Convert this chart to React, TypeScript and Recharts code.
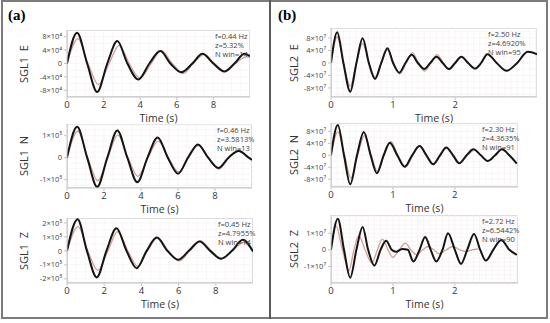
import React from 'react';
import { LineChart, Line, XAxis, YAxis, CartesianGrid } from 'recharts';

type Pt = [number, number];

// (a) SGL1 — time in s, value in units of the axis exponent
const sgl1EBlack: Pt[] = [[0,0],[0.55,9.2],[1.1,0],[1.65,-8.5],[2.2,0],[2.75,6.7],[3.3,0],[3.9,-4.8],[4.5,0],[5.1,3.7],[5.65,0],[6.25,-2.6],[6.85,0],[7.4,2.9],[8.0,0],[8.6,-2.4],[9.15,0],[9.7,2.9],[10,2.2]];
const sgl1ELight: Pt[] = [[0,0],[0.6,7.4],[1.15,0],[1.72,-6.3],[2.3,0],[2.85,5.4],[3.4,0],[3.98,-4.3],[4.6,0],[5.15,3.9],[5.75,0],[6.35,-3.0],[6.9,0],[7.5,2.7],[8.05,0],[8.65,-2.3],[9.2,0],[9.8,2.0],[10,1.9]];

const sgl1NBlack: Pt[] = [[0,0],[0.55,1.4],[1.09,0],[1.63,-1.33],[2.18,0],[2.72,1.24],[3.26,0],[3.8,-1.12],[4.35,0],[4.9,0.92],[5.45,0],[6.0,-0.73],[6.54,0],[7.08,0.6],[7.63,0],[8.18,-0.47],[8.73,0],[9.28,0.3],[9.82,0],[10,-0.1]];
const sgl1NLight: Pt[] = [[0,0],[0.58,1.2],[1.12,0],[1.66,-1.05],[2.2,0],[2.75,1.02],[3.3,0],[3.83,-0.85],[4.38,0],[4.93,0.75],[5.48,0],[6.03,-0.65],[6.57,0],[7.1,0.56],[7.65,0],[8.2,-0.52],[8.75,0],[9.3,0.33],[9.85,0],[10,-0.08]];

const sgl1ZBlack: Pt[] = [[0,0],[0.57,2.26],[1.07,0],[1.6,-1.9],[2.12,0],[2.66,1.62],[3.2,0],[3.75,-1.24],[4.28,0],[4.83,0.95],[5.4,0],[5.98,-0.64],[6.55,0],[7.13,0.67],[7.7,0],[8.28,-0.57],[8.87,0],[9.45,0.79],[10,-0.05]];
const sgl1ZLight: Pt[] = [[0,0],[0.6,1.74],[1.12,0],[1.66,-1.4],[2.2,0],[2.72,1.38],[3.27,0],[3.8,-1.1],[4.33,0],[4.87,0.95],[5.45,0],[6.03,-0.72],[6.6,0],[7.18,0.72],[7.75,0],[8.33,-0.56],[8.9,0],[9.5,0.6],[10,-0.05]];

// (b) SGL2
const sgl2EBlack: Pt[] = [[0,0],[0.1,9.8],[0.2,0],[0.31,-9.2],[0.41,0],[0.51,7.9],[0.61,0],[0.71,-5.1],[0.81,0],[0.91,4.7],[1.0,0],[1.1,-3.1],[1.2,0],[1.3,2.6],[1.4,0],[1.5,-1.9],[1.6,0],[1.7,2.0],[1.8,0],[1.9,-1.9],[2.0,0],[2.1,2.0],[2.21,0],[2.32,-1.8],[2.42,0],[2.52,2.8],[2.67,0],[2.83,-2.5],[3.0,0],[3.17,3.6],[3.32,2.8]];
const sgl2ELight: Pt[] = [[0,0],[0.1,8.4],[0.2,0],[0.31,-7.4],[0.41,0],[0.51,6.3],[0.61,0],[0.71,-4.6],[0.81,0],[0.91,4.3],[1.01,0],[1.11,-3.5],[1.21,0],[1.31,3.3],[1.41,0],[1.51,-2.6],[1.61,0],[1.71,2.7],[1.81,0],[1.91,-2.2],[2.01,0],[2.11,1.9],[2.21,0],[2.31,-1.8],[2.42,-0.2]];

const sgl2NBlack: Pt[] = [[0,0],[0.11,10.1],[0.21,0],[0.31,-9.7],[0.42,0],[0.53,7.8],[0.64,0],[0.74,-6.0],[0.85,0],[0.95,4.2],[1.07,0],[1.19,-3.8],[1.31,0],[1.43,3.1],[1.54,0],[1.65,-3.0],[1.76,0],[1.86,2.6],[1.97,0],[2.07,-2.7],[2.19,0],[2.3,2.0],[2.42,0],[2.53,-1.9],[2.65,0],[2.76,2.0],[2.88,0],[3.0,-2.8]];
const sgl2NLight: Pt[] = [[0,0],[0.11,7.8],[0.22,0],[0.32,-7.6],[0.43,0],[0.54,6.6],[0.65,0],[0.75,-5.4],[0.86,0],[0.97,4.6],[1.08,0],[1.2,-4.0],[1.32,0],[1.43,3.2],[1.55,0],[1.66,-2.9],[1.77,0],[1.87,2.5],[1.98,0],[2.08,-2.5],[2.2,0],[2.3,1.8]];

const sgl2ZBlack: Pt[] = [[0,0],[0.11,1.88],[0.21,0],[0.31,-1.68],[0.41,0],[0.51,1.38],[0.6,0],[0.7,-0.95],[0.8,0],[0.89,0.55],[0.98,0],[1.05,-0.12],[1.15,0.05],[1.24,0],[1.33,-0.7],[1.43,0],[1.52,0.78],[1.61,0],[1.7,-0.7],[1.8,0],[1.89,1.0],[2.0,0],[2.1,-0.85],[2.2,0],[2.31,0.95],[2.41,0],[2.5,-0.65],[2.62,0],[2.75,0.6],[2.88,0],[3.0,-0.3]];
const sgl2ZLight: Pt[] = [[0,0],[0.08,1.45],[0.185,0],[0.29,-1.25],[0.37,0],[0.45,0.85],[0.55,0],[0.66,-0.8],[0.75,0],[0.83,0.65],[0.92,0],[1.0,-0.45],[1.1,0],[1.2,0.4],[1.29,0],[1.38,-0.3],[1.48,0],[1.57,0.2],[1.66,0],[1.75,-0.24],[1.86,0],[1.97,0.2],[2.08,0],[2.18,-0.1],[2.28,0],[2.37,0.05]];

const ticksA = [0, 2, 4, 6, 8];
const ticksB = [0, 1, 2];

const FONT = "'Open Sans', 'Noto Sans', sans-serif";
const BLACK = '#141414';
const LIGHT = '#cfa096';

const toRows = (pts: Pt[]) => pts.map(([t, v]) => ({ t, v }));

interface PlotProps {
  x: number; y: number; w: number; h: number;
  xMax: number; xTicks: number[]; xStep: number;
  yDomain: [number, number]; yTicks: number[]; yStep: number; exp: string;
  black: Pt[]; light: Pt[];
  label: string; labelX: number;
  notes: string[]; noteX: number;
}

const Plot = (p: PlotProps) => {
  const ml = 50, mt = 4, mr = 4, mb = 16;
  const fmt = (v: number) => (v === 0 ? '0' : `${v}×10${p.exp}`);
  const vGrid = ({ offset }: any) => {
    const out: number[] = [];
    const px = (offset.width / p.xMax) * p.xStep;
    for (let i = 1; offset.left + i * px < offset.left + offset.width; i++) out.push(offset.left + i * px);
    return out;
  };
  const hGrid = ({ offset }: any) => {
    const out: number[] = [];
    const span = p.yDomain[1] - p.yDomain[0];
    const px = (offset.height / span) * p.yStep;
    const zero = offset.top + (p.yDomain[1] / span) * offset.height;
    for (let yy = zero % px; yy < offset.top + offset.height; yy += px) if (yy > offset.top) out.push(yy);
    return out;
  };
  return (
    <>
      <div style={{ position: 'absolute', left: p.x, top: p.y, width: p.w, height: p.h, border: '1px solid #dcdcdc', boxSizing: 'border-box' }} />
      <div style={{ position: 'absolute', left: p.x - ml, top: p.y - mt }}>
        <LineChart width={p.w + ml + mr} height={p.h + mt + mb} margin={{ top: mt, right: mr, left: 0, bottom: 0 }}>
          <CartesianGrid stroke="#f7eef1" strokeWidth={0.6} verticalCoordinatesGenerator={vGrid} horizontalCoordinatesGenerator={hGrid} />
          <XAxis type="number" dataKey="t" domain={[0, p.xMax]} ticks={p.xTicks} interval={0} allowDataOverflow height={mb}
            tick={{ fontSize: 9.5, fill: '#333', fontFamily: FONT }} tickSize={3} tickMargin={1} stroke="#c4c4c4" />
          <YAxis type="number" domain={p.yDomain} ticks={p.yTicks} interval={0} allowDataOverflow width={ml} tickFormatter={fmt}
            tick={{ fontSize: 7.5, fill: '#444', fontFamily: FONT }} tickSize={3} tickMargin={2} stroke="#c4c4c4" />
          <Line data={toRows(p.light)} dataKey="v" type="monotone" stroke={LIGHT} strokeWidth={1.3} dot={false} isAnimationActive={false} />
          <Line data={toRows(p.black)} dataKey="v" type="monotone" stroke={BLACK} strokeWidth={2} dot={false} isAnimationActive={false} />
        </LineChart>
      </div>
      <div style={{ position: 'absolute', left: p.labelX - 50, top: p.y + p.h / 2 - 8, width: 100, height: 16, textAlign: 'center',
        transform: 'rotate(-90deg)', fontSize: 11, color: '#333', fontFamily: FONT, whiteSpace: 'pre', lineHeight: '16px' }}>{p.label}</div>
      <div style={{ position: 'absolute', left: p.x + p.w / 2 - 40, top: p.y + p.h + 15, width: 80, textAlign: 'center',
        fontSize: 10.5, color: '#333', fontFamily: FONT, lineHeight: '13px' }}>Time (s)</div>
      <div style={{ position: 'absolute', left: p.noteX, top: p.y + 2, fontSize: 7.5, color: '#444', fontFamily: FONT, lineHeight: '9px' }}>
        {p.notes.map((n, i) => <div key={i}>{n}</div>)}
      </div>
    </>
  );
};

export default function App() {
  return (
    <div style={{ position: 'absolute', left: 0, top: 0, width: 550, height: 323, background: '#fff', overflow: 'hidden' }}>
      <div style={{ position: 'absolute', left: 1, top: 0, width: 547, height: 319, border: '2px solid #7c7c7c', boxSizing: 'border-box' }} />
      <div style={{ position: 'absolute', left: 269, top: 0, width: 2, height: 319, background: '#5a5a5a' }} />
      <div style={{ position: 'absolute', left: 8, top: 7, fontFamily: "'Liberation Serif', serif", fontWeight: 'bold', fontSize: 15 }}>(a)</div>
      <div style={{ position: 'absolute', left: 278, top: 7, fontFamily: "'Liberation Serif', serif", fontWeight: 'bold', fontSize: 15 }}>(b)</div>

      <Plot x={67} y={30} w={183} h={67} xMax={10} xTicks={ticksA} xStep={0.5} yDomain={[-10, 10]} yTicks={[-8, -4, 0, 4, 8]} yStep={2} exp="⁴"
        black={sgl1EBlack} light={sgl1ELight} label="SGL1  E" labelX={24} notes={['f=0.44 Hz', 'z=5.32%', 'N win=14']} noteX={215} />
      <Plot x={67} y={124} w={185} h={64} xMax={10} xTicks={ticksA} xStep={0.5} yDomain={[-1.38, 1.53]} yTicks={[-1, 0, 1]} yStep={0.25} exp="⁵"
        black={sgl1NBlack} light={sgl1NLight} label="SGL1  N" labelX={24} notes={['f=0.46 Hz', 'z=3.5813%', 'N win=13']} noteX={217} />
      <Plot x={67} y={218} w={186} h={65} xMax={10} xTicks={ticksA} xStep={0.5} yDomain={[-2.3, 2.35]} yTicks={[-2, -1, 0, 1, 2]} yStep={0.5} exp="⁵"
        black={sgl1ZBlack} light={sgl1ZLight} label="SGL1  Z" labelX={24} notes={['f=0.45 Hz', 'z=4.7955%', 'N win=14']} noteX={218} />

      <Plot x={331} y={28} w={206} h={69} xMax={3.32} xTicks={ticksB} xStep={0.1} yDomain={[-10.9, 11.2]} yTicks={[-8, -4, 0, 4, 8]} yStep={2} exp="⁷"
        black={sgl2EBlack} light={sgl2ELight} label="SGL2  E" labelX={294} notes={['f=2.50 Hz', 'z=4.6920%', 'N win=95']} noteX={488} />
      <Plot x={331} y={123} w={187} h={64} xMax={3.02} xTicks={ticksB} xStep={0.1} yDomain={[-10.6, 10.8]} yTicks={[-8, -4, 0, 4, 8]} yStep={2} exp="⁷"
        black={sgl2NBlack} light={sgl2NLight} label="SGL2  N" labelX={294} notes={['f=2.30 Hz', 'z=4.3635%', 'N win=91']} noteX={482} />
      <Plot x={331} y={215} w={187} h={68} xMax={3.02} xTicks={ticksB} xStep={0.1} yDomain={[-2.0, 2.1]} yTicks={[-1, 0, 1]} yStep={0.25} exp="⁷"
        black={sgl2ZBlack} light={sgl2ZLight} label="SGL2  Z" labelX={294} notes={['f=2.72 Hz', 'z=6.5442%', 'N win=90']} noteX={482} />
    </div>
  );
}
